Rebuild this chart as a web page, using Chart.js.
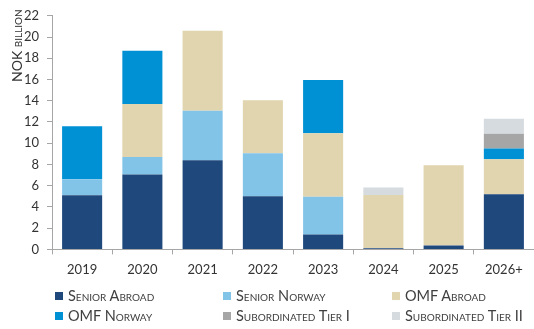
<!DOCTYPE html>
<html>
<head>
<meta charset="utf-8">
<script src="https://cdn.jsdelivr.net/npm/chart.js@4/dist/chart.umd.min.js"></script>
<style>
  html, body { margin: 0; padding: 0; background: #fff; }
  #wrap { position: relative; width: 534px; height: 329px; }
  canvas { position: absolute; left: 0; top: 0; }
  .lg { position: absolute; font-family: Lato, "Open Sans", sans-serif; font-size: 14.5px; font-variant: small-caps; color: #404040; white-space: nowrap; line-height: 16px; }
  .lg i { position: absolute; left: 0; top: 4px; width: 8px; height: 8px; }
  .lg span { position: absolute; left: 13px; top: 0; }
</style>
</head>
<body>
<div id="wrap">
  <canvas id="c" width="534" height="329"></canvas>
  <div id="legend"></div>
</div>
<script>
const categories = ['2019', '2020', '2021', '2022', '2023', '2024', '2025', '2026+'];
const seniorAbroad    = [5.1, 7.05, 8.4, 5.0, 1.4, 0.12, 0.37, 5.2];
const seniorNorway    = [1.5, 1.65, 4.65, 4.05, 3.55, 0, 0, 0];
const omfAbroad       = [0, 5.0, 7.55, 5.0, 6.0, 5.0, 7.55, 3.3];
const omfNorway       = [5.0, 5.0, 0, 0, 5.0, 0, 0, 1.0];
const subTier1        = [0, 0, 0, 0, 0, 0, 0, 1.4];
const subTier2        = [0, 0, 0, 0, 0, 0.7, 0, 1.4];
const seriesNames = ['Senior Abroad', 'Senior Norway', 'OMF Abroad', 'OMF Norway', 'Subordinated Tier I', 'Subordinated Tier II'];
const yTicks = [0, 2, 4, 6, 8, 10, 12, 14, 16, 18, 20, 22];
const yTitle = 'NOK billion';

const colors = ['#1F497D', '#82C4E8', '#E0D5AF', '#0090D4', '#A6A6A6', '#D5DBDF'];
const seriesData = [seniorAbroad, seniorNorway, omfAbroad, omfNorway, subTier1, subTier2];

const axisColor = '#A6A6A6';
const FONT = 'Lato, "Open Sans", sans-serif';

const yTitlePlugin = {
  id: 'yTitle',
  afterDraw(chart) {
    const ctx = chart.ctx;
    ctx.save();
    ctx.translate(22, 82);
    ctx.rotate(-Math.PI / 2);
    ctx.font = 'small-caps 14px ' + FONT;
    ctx.fillStyle = '#333333';
    ctx.textAlign = 'left';
    ctx.textBaseline = 'alphabetic';
    ctx.fillText(yTitle, 0, 0);
    ctx.restore();
  }
};

new Chart(document.getElementById('c'), {
  type: 'bar',
  data: {
    labels: categories,
    datasets: seriesData.map((d, i) => ({
      label: seriesNames[i],
      data: d,
      backgroundColor: colors[i],
      borderWidth: 0,
      barPercentage: 0.665,
      categoryPercentage: 1.0
    }))
  },
  options: {
    responsive: false,
    animation: false,
    layout: { padding: { left: 0, right: 0, top: 13, bottom: 43 } },
    plugins: { legend: { display: false }, tooltip: { enabled: false } },
    scales: {
      x: {
        stacked: true,
        grid: { display: true, drawOnChartArea: false, drawTicks: true, tickLength: 5, color: axisColor, offset: true },
        border: { display: true, color: axisColor, width: 1 },
        ticks: { color: '#333333', font: { family: FONT, size: 13 }, padding: 8 }
      },
      y: {
        stacked: true,
        min: 0,
        max: 22,
        afterBuildTicks(scale) { scale.ticks = yTicks.map(v => ({ value: v })); },
        afterFit(scale) { scale.width = 52; },
        grid: { display: true, drawOnChartArea: false, drawTicks: true, tickLength: 5, color: axisColor },
        border: { display: true, color: axisColor, width: 1 },
        ticks: { color: '#333333', font: { family: FONT, size: 13 }, padding: 8 }
      }
    }
  },
  plugins: [yTitlePlugin]
});

// legend (3 columns x 2 rows)
const colX = [55, 223, 392];
const rowY = [288, 308];
const lg = document.getElementById('legend');
seriesNames.forEach((name, i) => {
  const d = document.createElement('div');
  d.className = 'lg';
  d.style.left = colX[i % 3] + 'px';
  d.style.top = rowY[Math.floor(i / 3)] + 'px';
  const sq = document.createElement('i');
  sq.style.background = colors[i];
  const t = document.createElement('span');
  t.textContent = name;
  d.appendChild(sq);
  d.appendChild(t);
  lg.appendChild(d);
});
</script>
</body>
</html>
